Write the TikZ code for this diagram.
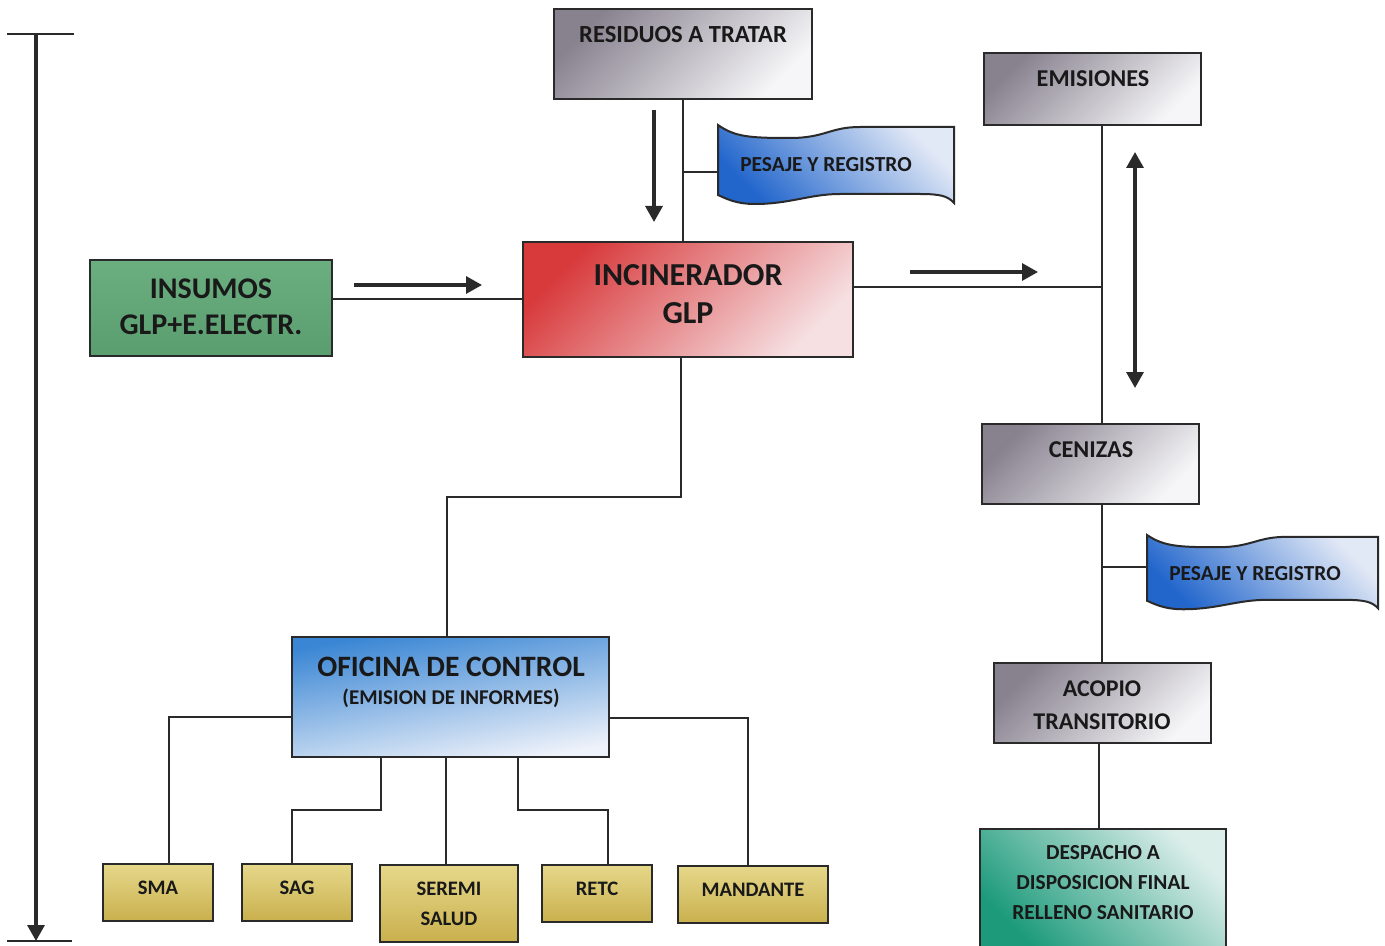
\documentclass[tikz,border=0pt]{standalone}
\usepackage{fontspec}
\setmainfont{Carlito}
\usetikzlibrary{arrows.meta}
\definecolor{edge}{HTML}{2A2A2A}
\definecolor{grayD}{HTML}{88828F}
\definecolor{grayL}{HTML}{F6F6F8}
\definecolor{redD}{HTML}{D8393B}
\definecolor{redL}{HTML}{F6E0E2}
\definecolor{greenA}{HTML}{6BAF80}
\definecolor{greenB}{HTML}{5A9E70}
\definecolor{blueD}{HTML}{3A86D4}
\definecolor{blueL}{HTML}{EEF2FA}
\definecolor{yelL}{HTML}{E6D88A}
\definecolor{yelD}{HTML}{C9B04E}
\definecolor{tealD}{HTML}{1C9A7A}
\definecolor{tealL}{HTML}{DCEEEA}
\definecolor{banD}{HTML}{2266CC}
\definecolor{banL}{HTML}{E2E9F6}
\tikzset{
  box/.style={draw=edge, line width=1pt, inner sep=0pt},
  graybox/.style={box, top color=grayD, bottom color=grayL, shading angle=45},
  redbox/.style={box, top color=redD, bottom color=redL, shading angle=45},
  greenbox/.style={box, top color=greenA, bottom color=greenB},
  bluebox/.style={box, top color=blueD, bottom color=blueL, shading angle=10},
  yelbox/.style={box, top color=yelL, bottom color=yelD},
  tealbox/.style={box, top color=tealL, bottom color=tealD, shading angle=-45},
  banner/.style={draw=edge, line width=1pt, top color=banL, bottom color=banD, shading angle=-45},
  lbl/.style 2 args={font=\bfseries\fontsize{#1}{#2}\selectfont, text=black!90, align=center, inner sep=0pt},
  conn/.style={draw=edge, line width=1pt},
  arr/.style={draw=edge, line width=1.6pt, -{Triangle[length=8pt,width=8.5pt]}},
  darr/.style={draw=edge, line width=1.6pt, {Triangle[length=8pt,width=8.5pt]}-{Triangle[length=8pt,width=8.5pt]}},
}
\begin{document}
\begin{tikzpicture}[x=0.5pt,y=-0.5pt]
\path[use as bounding box, fill=white] (0,0) rectangle (1385,946);

% boxes
\node[graybox, minimum width=129pt, minimum height=45pt] (res) at (683,54) {};
\node[redbox, minimum width=165pt, minimum height=57.5pt] (inc) at (688,299.5) {};
\node[greenbox, minimum width=121pt, minimum height=48pt] (ins) at (211,308) {};
\node[graybox, minimum width=108.5pt, minimum height=36pt] (emi) at (1092.5,89) {};
\node[graybox, minimum width=108.5pt, minimum height=40pt] (cen) at (1090.5,464) {};
\node[graybox, minimum width=108.5pt, minimum height=40pt] (aco) at (1102.5,703) {};
\node[tealbox, minimum width=123pt, minimum height=60pt] (des) at (1103,889) {};
\node[bluebox, minimum width=158.5pt, minimum height=60pt] (ofi) at (450.5,697) {};
\node[yelbox, minimum width=55pt, minimum height=28.5pt] (sma) at (158,892.5) {};
\node[yelbox, minimum width=55pt, minimum height=28.5pt] (sag) at (297,892.5) {};
\node[yelbox, minimum width=69pt, minimum height=38.5pt] (ser) at (449,903.5) {};
\node[yelbox, minimum width=55pt, minimum height=28.5pt] (ret) at (597,893.5) {};
\node[yelbox, minimum width=75pt, minimum height=28.5pt] (man) at (753,894.5) {};

% banners
\begin{scope}[shift={(718,125)}]
\path[banner] (0,0) .. controls (17,12) and (32,13) .. (72,13) .. controls (107,13) and (112,2) .. (142,2) -- (236,2) -- (236,78) .. controls (230,71) and (222,69) .. (202,69) -- (122,69) .. controls (92,69) and (72,79) .. (37,79) .. controls (17,79) and (7,73) .. (0,70) -- cycle;
\end{scope}
\begin{scope}[shift={(1147,535)}, xscale=0.979, yscale=0.94]
\path[banner] (0,0) .. controls (17,12) and (32,13) .. (72,13) .. controls (107,13) and (112,2) .. (142,2) -- (236,2) -- (236,78) .. controls (230,71) and (222,69) .. (202,69) -- (122,69) .. controls (92,69) and (72,79) .. (37,79) .. controls (17,79) and (7,73) .. (0,70) -- cycle;
\end{scope}
\coordinate (p1l) at (718,172);
\coordinate (p2l) at (1147,567);

% labels
\node[lbl={12.3}{14}] (res-t) at (683,35) {RESIDUOS A TRATAR};
\node[lbl={10.7}{13}] (pes1-t) at (826,165) {PESAJE Y REGISTRO};
\node[lbl={16}{19}] (inc-t) at (688,294) {INCINERADOR\\GLP};
\node[lbl={15}{18}] (ins-t) at (211,307) {INSUMOS\\GLP+E.ELECTR.};
\node[lbl={12.1}{14}] (emi-t) at (1093,79) {EMISIONES};
\node[lbl={12.1}{14}] (cen-t) at (1091,450) {CENIZAS};
\node[lbl={10.7}{13}] (pes2-t) at (1255,574) {PESAJE Y REGISTRO};
\node[lbl={12}{16.5}] (aco-t) at (1102,705.5) {ACOPIO\\TRANSITORIO};
\node[lbl={10.7}{15}] (des-t) at (1103,883) {DESPACHO A\\DISPOSICION FINAL\\RELLENO SANITARIO};
\node[lbl={14.8}{18}] (ofi-t1) at (451,667) {OFICINA DE CONTROL};
\node[lbl={10.5}{13}] (ofi-t2) at (451,698) {(EMISION DE INFORMES)};
\node[lbl={10.3}{12}] (sma-t) at (158,888) {SMA};
\node[lbl={10.3}{12}] (sag-t) at (297,888) {SAG};
\node[lbl={10.3}{15}] (ser-t) at (449,904) {SEREMI\\SALUD};
\node[lbl={10.3}{12}] (ret-t) at (597,889) {RETC};
\node[lbl={10.3}{12}] (man-t) at (753,890) {MANDANTE};

% connectors
\coordinate (tee) at (1102,287);
\coordinate (c3) at (1099,786);
\draw[conn] (res.south) -- (res.south |- inc.north);
\draw[conn] (res.south |- p1l) -- (p1l);
\draw[conn] ([yshift=4.5pt]ins.east) -- ([yshift=4.5pt]ins.east -| inc.west);
\draw[conn] ([yshift=6.25pt]inc.east) -- (tee);
\draw[conn] (emi.south -| tee) -- (cen.north -| tee);
\draw[conn] (cen.south -| tee) -- (aco.north -| tee);
\draw[conn] (p2l -| tee) -- (p2l);
\draw[conn] (aco.south -| c3) -- (des.north -| c3);

\coordinate (k1) at (681,497);
\coordinate (k2) at (447,497);
\draw[conn] (inc.south -| k1) -- (k1) -- (k2) -- (ofi.north -| k2);

\coordinate (s1) at (169,717);
\coordinate (s2a) at (381,810);
\coordinate (s2b) at (292,810);
\coordinate (s3) at (446,810);
\coordinate (s4a) at (518,810);
\coordinate (s4b) at (608,810);
\coordinate (s5) at (748,718);
\draw[conn] (ofi.west |- s1) -- (s1) -- (s1 |- sma.north);
\draw[conn] (ofi.south -| s2a) -- (s2a) -- (s2b) -- (s2b |- sag.north);
\draw[conn] (ofi.south -| s3) -- (ser.north -| s3);
\draw[conn] (ofi.south -| s4a) -- (s4a) -- (s4b) -- (s4b |- ret.north);
\draw[conn] (ofi.east |- s5) -- (s5) -- (s5 |- man.north);

% free arrows
\coordinate (a1s) at (654,110); \coordinate (a1e) at (654,222);
\coordinate (a2s) at (354,285); \coordinate (a2e) at (482,285);
\coordinate (a3s) at (910,272); \coordinate (a3e) at (1038,272);
\coordinate (a4s) at (1135,152); \coordinate (a4e) at (1135,388);
\draw[arr] (a1s) -- (a1e);
\draw[arr] (a2s) -- (a2e);
\draw[arr] (a3s) -- (a3e);
\draw[darr] (a4s) -- (a4e);

% left time bar
\coordinate (bt) at (36,34); \coordinate (bb) at (36,941);
\coordinate (tl) at (7,34); \coordinate (tr) at (74,34);
\coordinate (ul) at (7,941); \coordinate (ur) at (72,941);
\draw[conn] (tl) -- (tr);
\draw[conn] (ul) -- (ur);
\draw[arr] (bt) -- (bb);
\end{tikzpicture}
\end{document}
